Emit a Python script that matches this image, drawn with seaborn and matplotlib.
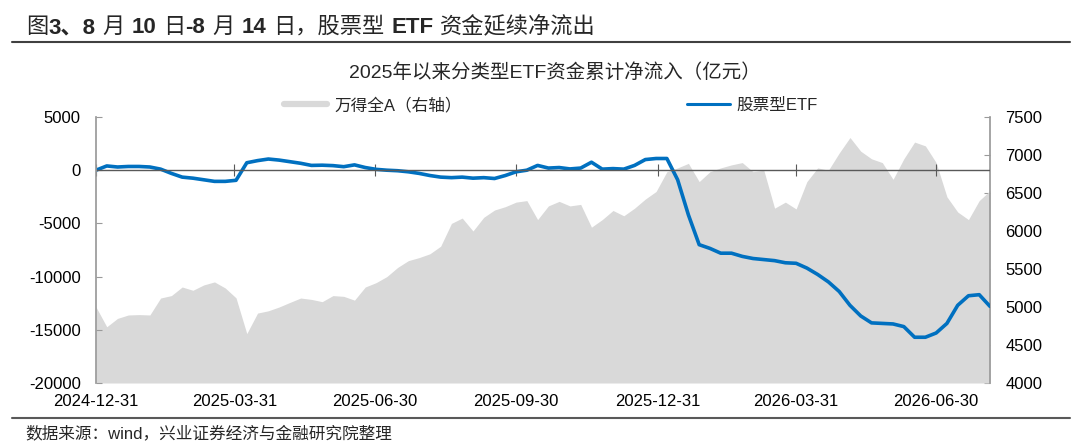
import pandas as pd
import matplotlib.pyplot as plt
import matplotlib.dates as mdates
import seaborn as sns
from matplotlib.lines import Line2D
from matplotlib.text import Annotation

W, H = 1080, 446

dates = pd.date_range("2024-12-31", periods=84, freq="7D")

wind_a = [5000, 4740, 4850, 4895, 4900, 4895, 5118, 5150, 5263, 5220,
          5290, 5330, 5250, 5120, 4650, 4920, 4950, 5000, 5060, 5118,
          5100, 5070, 5150, 5140, 5090, 5263, 5320, 5400, 5520, 5610,
          5650, 5700, 5800, 6100, 6170, 6000, 6180, 6276, 6320, 6380,
          6400, 6150, 6330, 6390, 6330, 6350, 6050, 6150, 6270, 6200,
          6300, 6420, 6520, 6780, 6830, 6890, 6650, 6780, 6830, 6870,
          6900, 6780, 6800, 6300, 6380, 6290, 6650, 6830, 6800, 7026,
          7230, 7050, 6950, 6900, 6680, 6950, 7170, 7120, 6900, 6450,
          6250, 6150, 6400, 6530]

stock_etf = [0, 400, 300, 350, 350, 300, 100, -300, -650, -750,
             -900, -1050, -1050, -950, 700, 900, 1050, 950, 800, 650,
             450, 470, 430, 330, 500, 250, 80, 0, -50, -150,
             -300, -500, -650, -700, -650, -750, -700, -780, -500, -150,
             0, 450, 200, 250, 120, 200, 750, 100, 150, 100,
             450, 1000, 1100, 1100, -900, -4200, -7000, -7350, -7800, -7800,
             -8100, -8300, -8400, -8500, -8700, -8750, -9200, -9800, -10500, -11400,
             -12700, -13700, -14350, -14400, -14450, -14700, -15700, -15700, -15300, -14400,
             -12700, -11800, -11700, -12800]

tick_labels = ["2024-12-31", "2025-03-31", "2025-06-30", "2025-09-30",
               "2025-12-31", "2026-03-31", "2026-06-30"]
tick_dates = pd.to_datetime(tick_labels)

left_ticks = [-20000, -15000, -10000, -5000, 0, 5000]
right_ticks = [4000, 4500, 5000, 5500, 6000, 6500, 7000, 7500]

sns.set_theme(style="white")
plt.rcParams["font.family"] = ["Liberation Sans", "Noto Sans CJK SC"]
plt.rcParams["axes.unicode_minus"] = False

fig = plt.figure(figsize=(W / 100, H / 100), dpi=100)
ax = fig.add_axes([96 / W, 1 - 383 / H, (990 - 96) / W, (383 - 117) / H])
ax2 = ax.twinx()

ax2.fill_between(dates, wind_a, 4000, color="#d9d9d9", lw=0)
ax2.set_ylim(4000, 7500)
ax2.set_yticks(right_ticks)

ax.set_zorder(ax2.get_zorder() + 1)
ax.patch.set_visible(False)

df = pd.DataFrame({"date": dates, "value": stock_etf})
sns.lineplot(data=df, x="date", y="value", ax=ax, color="#0070c0", lw=2.6)
ax.set_ylim(-20000, 5000)
ax.set_yticks(left_ticks)
ax.set_xlim(dates[0], dates[-1])
ax.set_xticks(tick_dates)
ax.set_xticklabels(tick_labels)
ax.set_xlabel("")
ax.set_ylabel("")

# zero line with small upward date ticks
ax.axhline(0, color="#595959", lw=1)
zero = ax.secondary_xaxis(0.8)
zero.set_xticks(mdates.date2num(tick_dates))
zero.tick_params(axis="x", direction="in", length=4, width=0.8, color="#595959",
                 labelbottom=False, labeltop=False, top=True, bottom=True)
for s in zero.spines.values():
    s.set_visible(False)

for a in (ax, ax2):
    for side in ("top", "bottom"):
        a.spines[side].set_visible(False)
ax.spines["right"].set_visible(False)
ax2.spines["left"].set_visible(False)
ax.spines["left"].set_color("#9a9a9a")
ax2.spines["right"].set_color("#9a9a9a")

ax.tick_params(axis="x", length=0, pad=8, labelsize=12, colors="black")
ax.tick_params(axis="y", direction="in", length=4, width=0.8, color="#9a9a9a",
               pad=11, labelsize=12, labelcolor="black", left=True)
ax2.tick_params(axis="y", direction="in", length=4, width=0.8, color="#9a9a9a",
                pad=11, labelsize=12, labelcolor="black", right=True)

fig.text(555 / W, 1 - 73 / H, "2025年以来分类型ETF资金累计净流入（亿元）",
         ha="center", va="center", fontsize=14)

handles = [Line2D([], [], color="#d9d9d9", lw=4.5),
           Line2D([], [], color="#0070c0", lw=2.2)]
fig.legend(handles, ["万得全A（右轴）", "股票型ETF"], loc="center",
           bbox_to_anchor=(551 / W, 1 - 105 / H), ncol=2, frameon=False,
           fontsize=12, handlelength=2.6, handletextpad=0.4,
           columnspacing=13.5, borderpad=0, borderaxespad=0)

# header with bold latin parts and regular chinese parts
segments = [("图", "normal", 0), ("3、8", "bold", 0), ("月", "normal", 5),
            ("10", "bold", 5), ("日", "normal", 5), ("-8", "bold", 0),
            ("月", "normal", 5), ("14", "bold", 5), ("日，股票型", "normal", 5),
            ("ETF", "bold", 5), ("资金延续净流出", "normal", 5)]
base_y = 1 - 33 / H
prev = fig.text(26 / W, base_y, segments[0][0], fontsize=16, va="baseline",
                fontweight=segments[0][1])
for txt, weight, gap in segments[1:]:
    prev = fig.add_artist(Annotation(txt, xy=(1, base_y),
                                     xycoords=(prev, "figure fraction"),
                                     xytext=(gap, 0), textcoords="offset points",
                                     va="baseline", ha="left", fontsize=16,
                                     fontweight=weight))

fig.add_artist(Line2D([12 / W, 1070 / W], [1 - 42 / H, 1 - 42 / H],
                      transform=fig.transFigure, color="#404040", lw=1.5))
fig.add_artist(Line2D([12 / W, 1070 / W], [1 - 418 / H, 1 - 418 / H],
                      transform=fig.transFigure, color="#595959", lw=1.5))
fig.text(25 / W, 1 - 433 / H, "数据来源：wind，兴业证券经济与金融研究院整理",
         ha="left", va="center", fontsize=12)

fig.savefig("out.png", dpi=100)
